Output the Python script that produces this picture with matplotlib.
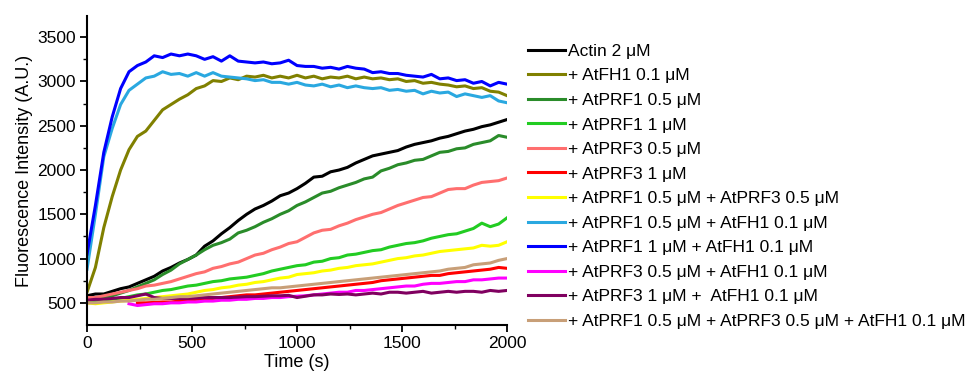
import numpy as np
import matplotlib.pyplot as plt

plt.rcParams['font.family'] = ['Liberation Sans', 'DejaVu Sans']

# time points (s)
time = np.arange(0, 2001, 40)

# fluorescence readings (A.U.)
actin = [580, 600, 600, 630, 660, 680, 720, 760, 800, 860, 900, 950, 990, 1040, 1140, 1200, 1280, 1350, 1430, 1500,
         1560, 1600, 1650, 1710, 1740, 1790, 1850, 1920, 1930, 1980, 2000, 2030, 2080, 2120, 2160, 2180, 2200, 2220,
         2260, 2290, 2310, 2330, 2360, 2380, 2410, 2440, 2460, 2490, 2510, 2540, 2570]
fh1 = [620, 900, 1350, 1700, 2000, 2230, 2380, 2440, 2560, 2680, 2740, 2800, 2850, 2920, 2950, 3010, 3000, 3040, 3020,
       3060, 3050, 3070, 3040, 3060, 3040, 3070, 3040, 3060, 3030, 3050, 3040, 3060, 3030, 3050, 3030, 3040, 3020,
       3030, 3000, 3010, 2980, 2990, 2970, 2960, 2940, 2950, 2920, 2930, 2890, 2880, 2840]
prf1_05 = [520, 540, 560, 580, 610, 640, 680, 720, 760, 820, 870, 940, 990, 1040, 1100, 1150, 1180, 1220, 1290, 1320,
           1360, 1410, 1450, 1500, 1540, 1600, 1640, 1690, 1740, 1760, 1800, 1830, 1860, 1900, 1920, 1990, 2020, 2060,
           2080, 2110, 2120, 2160, 2200, 2210, 2240, 2250, 2290, 2310, 2330, 2390, 2370]
prf1_1 = [510, 520, 530, 540, 550, 570, 590, 600, 620, 640, 650, 670, 690, 700, 720, 740, 750, 770, 780, 790, 810, 830,
          860, 880, 900, 920, 930, 960, 970, 1000, 1010, 1040, 1050, 1070, 1090, 1100, 1130, 1150, 1170, 1180, 1200,
          1230, 1250, 1270, 1280, 1310, 1340, 1400, 1360, 1390, 1460]
prf3_05 = [560, 560, 580, 600, 620, 640, 660, 690, 700, 720, 740, 770, 800, 830, 850, 890, 910, 940, 960, 1000, 1040,
           1060, 1100, 1130, 1170, 1190, 1240, 1290, 1320, 1330, 1370, 1400, 1440, 1470, 1500, 1520, 1560, 1600, 1630,
           1660, 1690, 1700, 1740, 1780, 1790, 1790, 1830, 1860, 1870, 1880, 1910]
prf3_1 = [np.nan] * 6 + [500, 500, 505, 510, 510, 520, 530, 540, 540, 550, 560, 570, 580, 590, 590, 600, 610, 620,
                         630, 640, 650, 660, 670, 680, 690, 700, 710, 720, 730, 750, 760, 770, 780, 790, 800, 810, 810,
                         830, 840, 850, 860, 870, 880, 900, 890]
prf1_prf3 = [500, 490, 500, 510, 520, 530, 540, 550, 560, 570, 580, 590, 600, 620, 640, 650, 670, 680, 700, 710, 730,
             740, 760, 780, 790, 820, 830, 840, 860, 870, 890, 900, 920, 930, 940, 960, 980, 1000, 1010, 1030, 1040,
             1060, 1080, 1090, 1100, 1110, 1120, 1150, 1140, 1150, 1190]
prf1_05_fh1 = [880, 1500, 2150, 2470, 2740, 2900, 2970, 3040, 3060, 3110, 3080, 3090, 3060, 3100, 3060, 3100, 3060,
               3050, 3040, 3030, 3010, 3020, 2990, 2990, 2970, 2990, 2960, 2950, 2970, 2940, 2960, 2930, 2950, 2930,
               2920, 2930, 2900, 2910, 2890, 2900, 2860, 2890, 2870, 2880, 2830, 2860, 2840, 2820, 2840, 2780, 2760]
prf1_1_fh1 = [1050, 1600, 2200, 2600, 2920, 3110, 3180, 3220, 3290, 3270, 3310, 3290, 3310, 3290, 3250, 3280, 3230,
              3290, 3230, 3220, 3210, 3220, 3200, 3210, 3240, 3180, 3170, 3170, 3150, 3160, 3140, 3170, 3150, 3140,
              3100, 3110, 3090, 3090, 3070, 3060, 3050, 3080, 3030, 3040, 3010, 3020, 2980, 3000, 2950, 2990, 2970]
prf3_05_fh1 = [np.nan] * 5 + [490, 470, 480, 490, 490, 500, 500, 510, 510, 520, 520, 530, 530, 540, 540, 550, 550,
                              560, 560, 570, 575, 580, 590, 600, 610, 620, 620, 640, 640, 650, 660, 670, 680, 690, 690,
                              710, 720, 720, 730, 740, 740, 760, 760, 770, 780, 780]
prf3_1_fh1 = [530, 540, 540, 550, 560, 560, 580, 600, 560, 550, 550, 550, 550, 555, 560, 560, 560, 560, 565, 570, 570,
              575, 580, 580, 585, 560, 575, 590, 590, 600, 595, 600, 590, 600, 610, 600, 620, 620, 610, 620, 630, 610,
              620, 630, 620, 630, 630, 620, 640, 630, 640]
all_three = [500, 500, 510, 510, 520, 520, 530, 540, 540, 550, 560, 570, 570, 580, 590, 600, 610, 620, 630, 640, 650,
             660, 670, 670, 680, 690, 700, 710, 720, 730, 740, 750, 760, 770, 780, 790, 800, 810, 820, 830, 840, 850,
             860, 880, 890, 900, 930, 940, 950, 980, 1000]

series = [actin, fh1, prf1_05, prf1_1, prf3_05, prf3_1, prf1_prf3, prf1_05_fh1, prf1_1_fh1,
          prf3_05_fh1, prf3_1_fh1, all_three]
labels = ["Actin 2 μM",
          "+ AtFH1 0.1 μM",
          "+ AtPRF1 0.5 μM",
          "+ AtPRF1 1 μM",
          "+ AtPRF3 0.5 μM",
          "+ AtPRF3 1 μM",
          "+ AtPRF1 0.5 μM + AtPRF3 0.5 μM",
          "+ AtPRF1 0.5 μM + AtFH1 0.1 μM",
          "+ AtPRF1 1 μM + AtFH1 0.1 μM",
          "+ AtPRF3 0.5 μM + AtFH1 0.1 μM",
          "+ AtPRF3 1 μM +  AtFH1 0.1 μM",
          "+ AtPRF1 0.5 μM + AtPRF3 0.5 μM + AtFH1 0.1 μM"]
colors = ['#000000', '#808000', '#2a8c2a', '#22cc22', '#ff6f6f', '#ff0000',
          '#ffff00', '#2aa8e0', '#0000ff', '#ff00ff', '#800060', '#c89f78']

fig = plt.figure(figsize=(9.70, 3.71), dpi=100)
ax = fig.add_axes([0.0897, 0.124, 0.433, 0.833])

for y, lab, c in zip(series, labels, colors):
    ax.plot(time, y, color=c, lw=2.2, label=lab)

ax.set_xlim(0, 2000)
ax.set_ylim(250, 3740)
ax.set_xticks([0, 500, 1000, 1500, 2000])
ax.set_xticks(np.arange(250, 2000, 500), minor=True)
ax.set_yticks([500, 1000, 1500, 2000, 2500, 3000, 3500])
ax.set_yticks(np.arange(750, 3740, 500), minor=True)
ax.spines['top'].set_visible(False)
ax.spines['right'].set_visible(False)
ax.spines['left'].set_linewidth(1.5)
ax.spines['bottom'].set_linewidth(1.5)
ax.tick_params(which='major', direction='out', length=5, width=1.3, labelsize=12.5, pad=3)
ax.tick_params(which='minor', direction='out', length=3, width=1.0)

ax.set_xlabel("Time (s)", fontsize=13, labelpad=2)
ax.set_ylabel("Fluorescence Intensity (A.U.)", fontsize=13, labelpad=3)

fig.legend(loc='upper left', bbox_to_anchor=(0.544, 0.882), frameon=False,
           fontsize=12.5, handlelength=2.15, handletextpad=0.18, labelspacing=0.54,
           borderpad=0, borderaxespad=0)

fig.savefig("out.png", dpi=100)
